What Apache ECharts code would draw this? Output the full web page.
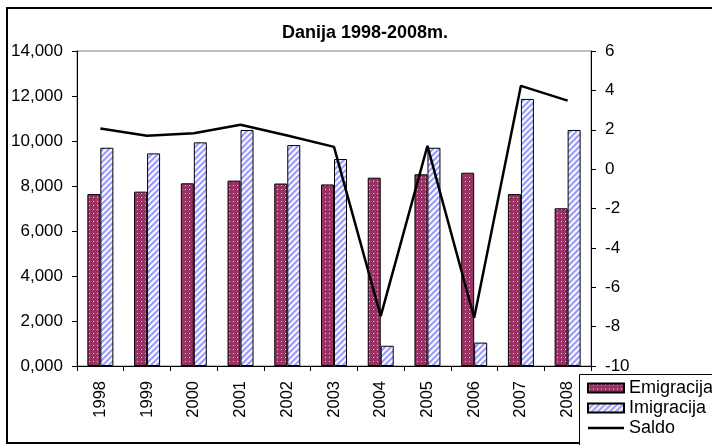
<!DOCTYPE html>
<html>
<head>
<meta charset="utf-8">
<script src="https://cdn.jsdelivr.net/npm/echarts@6/dist/echarts.min.js"></script>
<style>
  html, body { margin: 0; padding: 0; background: #fff; }
  #chart { width: 712px; height: 445px; }
</style>
</head>
<body>
<div id="chart"></div>
<script>
// Years on the category axis
const years = ['1998', '1999', '2000', '2001', '2002', '2003', '2004', '2005', '2006', '2007', '2008'];
// Emigration and immigration counts (left axis)
const emigracija = [7640, 7750, 8120, 8240, 8110, 8070, 8370, 8520, 8590, 7640, 7010];
const imigracija = [9700, 9450, 9940, 10490, 9820, 9200, 900, 9700, 1040, 11870, 10490];
// Net balance in thousands (right axis)
const saldo = [2.06, 1.70, 1.82, 2.25, 1.71, 1.13, -7.47, 1.18, -7.55, 4.23, 3.48];

const leftTicks = { min: 0, max: 14000, interval: 2000 };
const rightTicks = { min: -10, max: 6, interval: 2 };

// Fill patterns for the two bar series
function dottedFill() {
  const c = document.createElement('canvas');
  c.width = 4; c.height = 4;
  const g = c.getContext('2d');
  g.fillStyle = '#993366';
  g.fillRect(0, 0, 4, 4);
  g.fillStyle = '#efc3da';
  g.fillRect(1, 1, 1, 1);
  return { image: c, repeat: 'repeat' };
}
function stripedFill() {
  const c = document.createElement('canvas');
  c.width = 6; c.height = 6;
  const g = c.getContext('2d');
  g.fillStyle = '#fbfbee';
  g.fillRect(0, 0, 6, 6);
  g.strokeStyle = '#9999ff';
  g.lineWidth = 2;
  g.beginPath();
  g.moveTo(-1, 7); g.lineTo(7, -1);
  g.moveTo(-4, 4); g.lineTo(4, -4);
  g.moveTo(2, 10); g.lineTo(10, 2);
  g.stroke();
  return { image: c, repeat: 'repeat' };
}

function thousands(v) {
  if (v === 0) return '0,000';
  return v.toLocaleString('en-US');
}

// Legend icon for the line: a thick horizontal stroke centred in a 36x9 box
const lineIcon = 'path://M0,0L0.01,0L0.01,0.01L0,0.01ZM0,3.3L36,3.3L36,5.7L0,5.7ZM35.99,8.99L36,8.99L36,9L35.99,9Z';

const chart = echarts.init(document.getElementById('chart'), null, { renderer: 'canvas' });
const font = 'Arial, "Liberation Sans", sans-serif';

chart.setOption({
  animation: false,
  backgroundColor: '#fff',
  textStyle: { fontFamily: font },
  graphic: [{
    // outer frame of the chart
    type: 'rect',
    shape: { x: 7, y: 8, width: 730, height: 435 },
    style: { fill: 'none', stroke: '#000', lineWidth: 2 },
    z: -1
  }, {
    // frame around the legend
    type: 'rect',
    shape: { x: 579.5, y: 374.5, width: 200, height: 100 },
    style: { fill: '#fff', stroke: '#000', lineWidth: 1 },
    z: 10
  }],
  title: {
    text: 'Danija 1998-2008m.',
    left: 360,
    textAlign: 'center',
    top: 19,
    textStyle: { fontSize: 18, fontWeight: 'bold', color: '#000', fontFamily: font }
  },
  grid: {
    left: 77, right: 121, top: 51, bottom: 79,
    show: true, borderColor: '#808080', borderWidth: 1, backgroundColor: 'transparent'
  },
  legend: {
    orient: 'vertical',
    left: 587,
    top: 379,
    padding: 0,
    itemWidth: 36,
    itemHeight: 9,
    itemGap: 2,
    z: 20,
    textStyle: { fontSize: 18, color: '#000', fontFamily: font, lineHeight: 18 },
    data: [
      { name: 'Emigracija', icon: 'rect' },
      { name: 'Imigracija', icon: 'rect' },
      { name: 'Saldo', icon: lineIcon, itemStyle: { color: '#000', borderWidth: 0 } }
    ]
  },
  xAxis: {
    type: 'category',
    data: years,
    boundaryGap: true,
    axisLine: { lineStyle: { color: '#000', width: 1 } },
    axisTick: { show: true, length: 5, inside: false, lineStyle: { color: '#000' } },
    axisLabel: { rotate: 90, fontSize: 16.5, color: '#000', margin: 15, fontFamily: font }
  },
  yAxis: [{
    type: 'value',
    min: leftTicks.min, max: leftTicks.max, interval: leftTicks.interval,
    axisLine: { show: true, lineStyle: { color: '#000', width: 1 } },
    axisTick: { show: true, length: 5, lineStyle: { color: '#000' } },
    splitLine: { show: false },
    axisLabel: { fontSize: 17, color: '#000', margin: 14, formatter: thousands, fontFamily: font }
  }, {
    type: 'value',
    position: 'right',
    min: rightTicks.min, max: rightTicks.max, interval: rightTicks.interval,
    axisLine: { show: true, lineStyle: { color: '#000', width: 1 } },
    axisTick: { show: true, length: 5, lineStyle: { color: '#000' } },
    splitLine: { show: false },
    axisLabel: { fontSize: 17, color: '#000', margin: 14, fontFamily: font }
  }],
  series: [{
    name: 'Emigracija',
    type: 'bar',
    yAxisIndex: 0,
    data: emigracija,
    barWidth: 13,
    barGap: '0%',
    itemStyle: { color: dottedFill(), borderColor: '#000', borderWidth: 1 }
  }, {
    name: 'Imigracija',
    type: 'bar',
    yAxisIndex: 0,
    data: imigracija,
    barWidth: 13,
    barGap: '0%',
    itemStyle: { color: stripedFill(), borderColor: '#000', borderWidth: 1 }
  }, {
    name: 'Saldo',
    type: 'line',
    yAxisIndex: 1,
    data: saldo,
    symbol: 'none',
    z: 5,
    lineStyle: { color: '#000', width: 2.5 },
    itemStyle: { color: '#000' }
  }]
});
</script>
</body>
</html>
